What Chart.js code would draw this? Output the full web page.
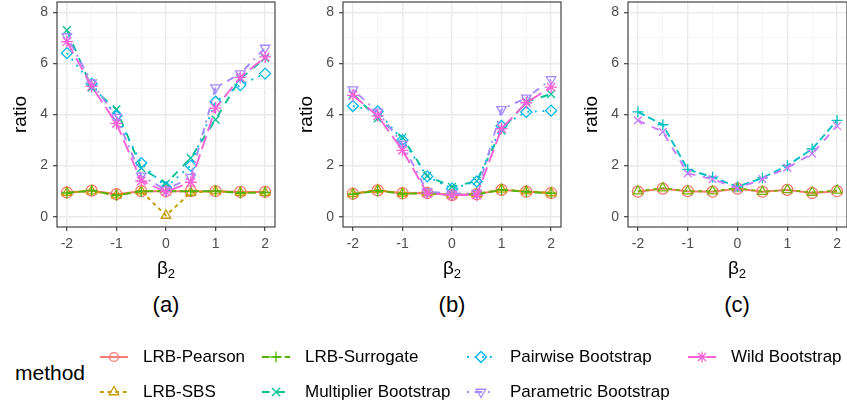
<!DOCTYPE html>
<html>
<head>
<meta charset="utf-8">
<script src="https://cdn.jsdelivr.net/npm/chart.js@4.4.1/dist/chart.umd.min.js"></script>
<style>
  html, body { margin: 0; padding: 0; background: #fff; }
  body { width: 847px; height: 406px; position: relative; overflow: hidden;
         font-family: "Liberation Sans", Arial, sans-serif; }
  .panel { position: absolute; top: 0; height: 260px; }
  .lbl { position: absolute; transform: translateX(-50%); line-height: 1; color: #000; white-space: nowrap; }
  .xt { font-size: 19px; top: 258px; }
  .xt sub { font-size: 13px; vertical-align: -4px; }
  .pt { font-size: 22px; top: 294px; }
  #legend { position: absolute; left: 0; top: 330px; width: 847px; height: 76px; }
  .lt { position: absolute; font-size: 21px; left: 15px; top: 32px; line-height: 1; }
  .item { position: absolute; display: flex; align-items: center; height: 20px; font-size: 17px; }
  .item canvas { margin-right: 15px; }
</style>
</head>
<body>

<div class="panel" style="left:0px;width:280px"><canvas id="pa" width="280" height="260"></canvas></div>
<div class="panel" style="left:286px;width:280px"><canvas id="pb" width="280" height="260"></canvas></div>
<div class="panel" style="left:571px;width:276px"><canvas id="pc" width="276" height="260"></canvas></div>

<div class="lbl xt" style="left:166px">&beta;<sub>2</sub></div>
<div class="lbl xt" style="left:452px">&beta;<sub>2</sub></div>
<div class="lbl xt" style="left:737px">&beta;<sub>2</sub></div>
<div class="lbl pt" style="left:166px">(a)</div>
<div class="lbl pt" style="left:452px">(b)</div>
<div class="lbl pt" style="left:737px">(c)</div>

<div id="legend"><div class="lt">method</div></div>

<script>
// x positions (beta_2) and grid/tick values
const beta = [-2, -1.5, -1, -0.5, 0, 0.5, 1, 1.5, 2];
const yGrid = [0, 1, 2, 3, 4, 5, 6, 7, 8];

const methods = ["LRB-Pearson", "LRB-SBS", "LRB-Surrogate", "Multiplier Bootstrap",
                 "Pairwise Bootstrap", "Parametric Bootstrap", "Wild Bootstrap"];

// panel (a)
const aPearson    = [0.95, 1.02, 0.88, 1.00, 1.00, 1.00, 1.00, 0.97, 0.97];
const aSBS        = [0.95, 1.00, 0.85, 1.00, 0.05, 0.95, 1.00, 0.95, 0.95];
const aSurrogate  = [0.93, 1.03, 0.83, 1.00, 1.00, 1.00, 1.00, 0.93, 0.95];
const aMultiplier = [7.30, 5.05, 4.20, 1.90, 1.30, 2.30, 3.80, 5.40, 6.20];
const aPairwise   = [6.40, 5.20, 3.95, 2.10, 1.15, 2.00, 4.50, 5.15, 5.60];
const aParametric = [7.05, 5.25, 3.90, 1.60, 1.05, 1.55, 5.05, 5.60, 6.60];
const aWild       = [6.85, 5.10, 3.65, 1.40, 0.98, 1.35, 4.25, 5.45, 6.25];

// panel (b)
const bPearson    = [0.90, 1.03, 0.92, 0.93, 0.85, 0.88, 1.05, 0.98, 0.93];
const bSBS        = [0.90, 1.05, 0.92, 0.93, 0.85, 0.90, 1.07, 1.00, 0.93];
const bSurrogate  = [0.88, 1.02, 0.90, 0.92, 0.85, 0.88, 1.05, 0.98, 0.92];
const bMultiplier = [4.80, 3.85, 3.10, 1.60, 1.17, 1.40, 3.38, 4.50, 4.80];
const bPairwise   = [4.33, 4.12, 3.00, 1.58, 1.10, 1.38, 3.55, 4.10, 4.15];
const bParametric = [4.97, 4.10, 2.85, 0.98, 0.90, 0.92, 4.20, 4.65, 5.37];
const bWild       = [4.75, 3.95, 2.60, 0.92, 0.85, 0.85, 3.45, 4.46, 5.07];

// panel (c) - four methods, own palette
const cPearson    = [0.98, 1.10, 1.00, 0.98, 1.10, 0.98, 1.05, 0.93, 1.00];
const cSBS        = [1.00, 1.12, 1.00, 1.00, 1.12, 0.98, 1.05, 0.95, 1.03];
const cSurrogate  = [4.10, 3.60, 1.85, 1.55, 1.17, 1.52, 2.00, 2.65, 3.77];
const cMultiplier = [3.77, 3.32, 1.70, 1.47, 1.12, 1.47, 1.92, 2.47, 3.55];

// styles
const col7 = ["#F8766D", "#C49A00", "#53B400", "#00C094", "#00B6EB", "#A58AFF", "#FB61D7"];
const col4 = ["#F8766D", "#7CAE00", "#00BFC4", "#C77CFF"];
const dashes = [[], [3.8, 3.8], [7.6, 3.8], [7.6, 7.6], [1.9, 5.7], [1.9, 5.7, 7.6, 5.7], [13.3, 5.7]];
const shapes = ["circle", "triangle", "cross", "crossRot", "rectRot", "triangle", "star"];
const rots = [0, 0, 0, 0, 0, 180, 0];

function makeDatasets(series, colors) {
  return series.map((vals, i) => ({
    label: methods[i],
    data: beta.map((b, j) => ({ x: b, y: vals[j] })),
    borderColor: colors[i],
    backgroundColor: "transparent",
    borderWidth: 1.9,
    borderDash: dashes[i],
    pointStyle: shapes[i],
    pointRotation: rots[i],
    pointRadius: i === 6 ? 6 : 5.5,
    pointBorderWidth: 1.3,
    pointBorderColor: colors[i],
    pointBackgroundColor: "transparent",
    tension: 0,
    order: series.length - 1 - i
  }));
}

const panelBorder = {
  id: "panelBorder",
  afterDraw(chart) {
    const { ctx, chartArea: a } = chart;
    ctx.save();
    ctx.strokeStyle = "#333333";
    ctx.lineWidth = 1.1;
    ctx.strokeRect(a.left, a.top, a.right - a.left, a.bottom - a.top);
    ctx.restore();
  }
};

function isMajorY(c) { return c.tick && c.tick.value % 2 === 0; }
function isMajorX(c) { return c.tick && Number.isInteger(c.tick.value); }

function noPad(s) {
  s.paddingTop = 0; s.paddingBottom = 0; s.paddingLeft = 0; s.paddingRight = 0;
}

function makeChart(id, datasets, padRight) {
  return new Chart(document.getElementById(id), {
    type: "line",
    data: { datasets },
    plugins: [panelBorder],
    options: {
      responsive: false,
      animation: false,
      layout: { autoPadding: false, padding: { top: 2, right: padRight, left: 0, bottom: 0 } },
      plugins: { legend: { display: false }, tooltip: { enabled: false } },
      scales: {
        x: {
          type: "linear", min: -2.2, max: 2.2,
          afterBuildTicks: s => { s.ticks = beta.map(v => ({ value: v })); },
          afterFit: s => { s.height = 33; noPad(s); },
          ticks: {
            callback: v => Number.isInteger(v) ? String(v) : "",
            autoSkip: false, maxRotation: 0, color: "#4D4D4D",
            font: { family: "Liberation Sans", size: 14 }, padding: 5
          },
          grid: {
            color: c => isMajorX(c) ? "#EBEBEB" : "#F3F3F3",
            lineWidth: c => isMajorX(c) ? 1.4 : 0.8,
            tickLength: 4,
            tickColor: c => isMajorX(c) ? "#333333" : "rgba(0,0,0,0)",
            tickWidth: 1.1
          },
          border: { display: false }
        },
        y: {
          type: "linear", min: -0.4, max: 8.4,
          afterBuildTicks: s => { s.ticks = yGrid.map(v => ({ value: v })); },
          afterFit: s => { s.width = 57; noPad(s); },
          ticks: {
            callback: v => v % 2 === 0 ? String(v) : "",
            autoSkip: false, color: "#4D4D4D",
            font: { family: "Liberation Sans", size: 14 }, padding: 5
          },
          grid: {
            color: c => isMajorY(c) ? "#EBEBEB" : "#F3F3F3",
            lineWidth: c => isMajorY(c) ? 1.4 : 0.8,
            tickLength: 4,
            tickColor: c => isMajorY(c) ? "#333333" : "rgba(0,0,0,0)",
            tickWidth: 1.1
          },
          border: { display: false },
          title: {
            display: true, text: "ratio", color: "#000",
            font: { family: "Liberation Sans", size: 19 },
            padding: { top: 9, bottom: 0 }
          }
        }
      }
    }
  });
}

makeChart("pa", makeDatasets([aPearson, aSBS, aSurrogate, aMultiplier, aPairwise, aParametric, aWild], col7), 5);
makeChart("pb", makeDatasets([bPearson, bSBS, bSurrogate, bMultiplier, bPairwise, bParametric, bWild], col7), 5);
makeChart("pc", makeDatasets([cPearson, cSBS, cSurrogate, cMultiplier], col4), 0);

// legend (drawn as HTML, keys on little canvases)
function drawMarker(ctx, style, x, y, r, rot) {
  ctx.beginPath();
  if (style === "circle") {
    ctx.arc(x, y, r * 0.8, 0, Math.PI * 2);
  } else if (style === "triangle") {
    const s = rot ? -1 : 1;
    ctx.moveTo(x, y - s * r);
    ctx.lineTo(x + r * 0.87, y + s * r * 0.5);
    ctx.lineTo(x - r * 0.87, y + s * r * 0.5);
    ctx.closePath();
  } else if (style === "cross") {
    ctx.moveTo(x - r, y); ctx.lineTo(x + r, y);
    ctx.moveTo(x, y - r); ctx.lineTo(x, y + r);
  } else if (style === "crossRot") {
    const d = r * 0.72;
    ctx.moveTo(x - d, y - d); ctx.lineTo(x + d, y + d);
    ctx.moveTo(x - d, y + d); ctx.lineTo(x + d, y - d);
  } else if (style === "rectRot") {
    ctx.moveTo(x, y - r); ctx.lineTo(x + r, y); ctx.lineTo(x, y + r); ctx.lineTo(x - r, y);
    ctx.closePath();
  } else if (style === "star") {
    const d = r * 0.72;
    ctx.moveTo(x - r, y); ctx.lineTo(x + r, y);
    ctx.moveTo(x, y - r); ctx.lineTo(x, y + r);
    ctx.moveTo(x - d, y - d); ctx.lineTo(x + d, y + d);
    ctx.moveTo(x - d, y + d); ctx.lineTo(x + d, y - d);
  }
  ctx.stroke();
}

const legendCols = [100, 262, 467, 688];
const legendRows = [27, 62];
const legendEl = document.getElementById("legend");
methods.forEach((name, i) => {
  const col = Math.floor(i / 2), row = i % 2;
  const item = document.createElement("div");
  item.className = "item";
  item.style.left = legendCols[col] + "px";
  item.style.top = (legendRows[row] - 10) + "px";
  const cv = document.createElement("canvas");
  cv.width = 28; cv.height = 20;
  const ctx = cv.getContext("2d");
  ctx.strokeStyle = col7[i];
  ctx.lineWidth = 1.9;
  ctx.setLineDash(dashes[i]);
  ctx.beginPath(); ctx.moveTo(0, 10); ctx.lineTo(28, 10); ctx.stroke();
  ctx.setLineDash([]);
  ctx.lineWidth = 1.3;
  drawMarker(ctx, shapes[i], 14, 10, 5.5, rots[i]);
  item.appendChild(cv);
  const t = document.createElement("span");
  t.textContent = name;
  item.appendChild(t);
  legendEl.appendChild(item);
});
</script>
</body>
</html>
